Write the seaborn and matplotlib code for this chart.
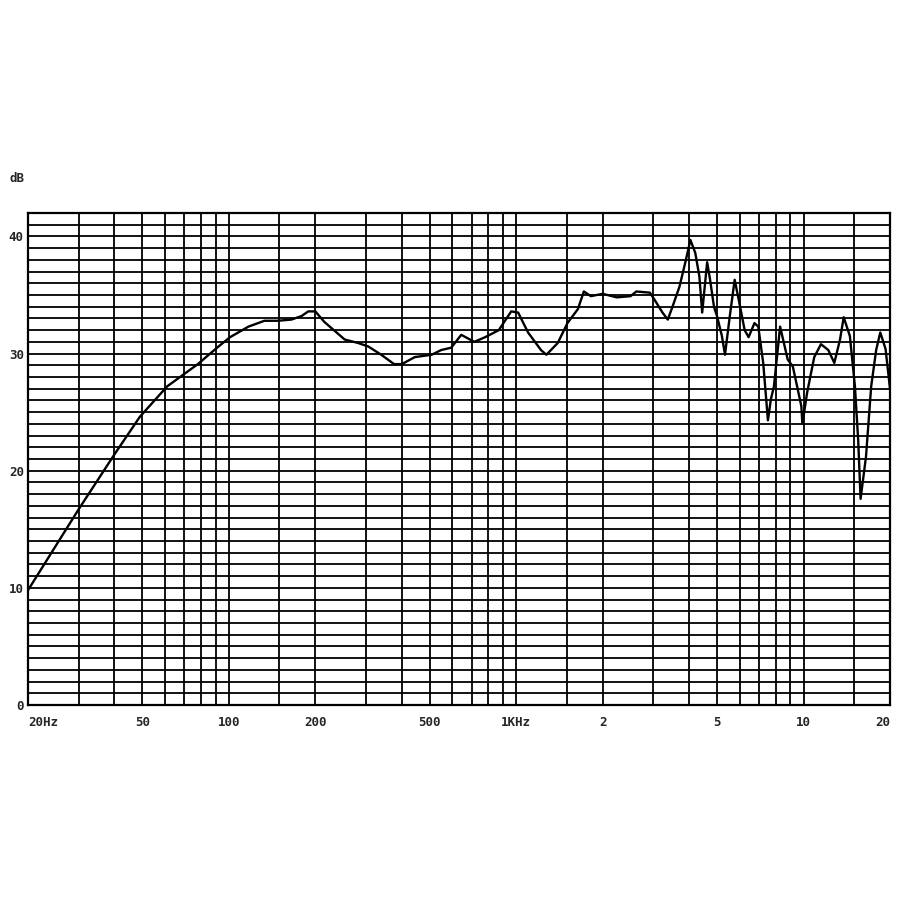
import matplotlib
matplotlib.use("Agg")
import matplotlib.pyplot as plt
import numpy as np
import seaborn as sns
import pandas as pd

sns.set_style("white")
plt.rcParams["font.family"] = ["DejaVu Sans Mono", "DejaVu Sans"]

# response curve (Hz, dB)
freq_hz = [20, 30, 40, 49, 61, 78, 92, 101, 117, 133, 148, 165, 179, 189, 200,
           215, 232, 253, 282, 306, 339, 376, 400, 444, 508, 548, 594, 644,
           715, 780, 870, 961, 1016, 1100, 1220, 1274, 1395, 1508, 1640, 1720,
           1820, 2000, 2240, 2500, 2620, 2920, 3030, 3230, 3370, 3500, 3700,
           3880, 4040, 4200, 4340, 4440, 4620, 4730, 4880, 5000, 5200, 5330,
           5540, 5760, 5950, 6240, 6440, 6750, 6960, 7240, 7520, 7700, 7890,
           8290, 8810, 9180, 9830, 9910, 10300, 10900, 11500, 12200, 12800,
           13400, 13800, 14500, 15100, 15500, 15800, 16500, 17200, 17900,
           18500, 19300, 20000]
level_db = [9.8, 16.7, 21.4, 24.6, 27.2, 29.1, 30.6, 31.4, 32.3, 32.8, 32.8,
            32.9, 33.2, 33.6, 33.6, 32.7, 32.0, 31.2, 30.9, 30.6, 29.9, 29.1,
            29.1, 29.7, 29.9, 30.3, 30.5, 31.6, 31.0, 31.4, 32.0, 33.6, 33.5,
            31.8, 30.3, 29.9, 30.9, 32.6, 33.8, 35.3, 34.9, 35.1, 34.8, 34.9,
            35.3, 35.2, 34.6, 33.5, 32.9, 34.0, 35.7, 37.8, 39.7, 38.6, 36.6,
            33.5, 37.8, 36.3, 34.0, 33.2, 31.5, 29.9, 33.2, 36.3, 34.6, 32.0,
            31.4, 32.6, 32.3, 29.2, 24.3, 26.1, 27.2, 32.3, 29.5, 28.9, 25.5,
            24.0, 26.7, 29.7, 30.8, 30.3, 29.2, 31.2, 33.1, 31.5, 27.2, 22.6,
            17.6, 21.2, 27.2, 30.3, 31.8, 30.4, 27.0]

grid_freqs = [20, 30, 40, 50, 60, 70, 80, 90, 100, 150, 200, 300, 400, 500,
              600, 700, 800, 900, 1000, 1500, 2000, 3000, 4000, 5000, 6000,
              7000, 8000, 9000, 10000, 15000, 20000]
x_labels = {20: "20Hz", 50: "50", 100: "100", 200: "200", 500: "500",
            1000: "1KHz", 2000: "2", 5000: "5", 10000: "10", 20000: "20"}
y_labels = {0: "0", 10: "10", 20: "20", 30: "30", 40: "40"}

df = pd.DataFrame({"freq": freq_hz, "db": level_db})

fig = plt.figure(figsize=(9, 9), dpi=100)
ax = fig.add_axes([28 / 900, 1 - 705 / 900, 862 / 900, 492 / 900])

sns.lineplot(data=df, x="freq", y="db", color="black", linewidth=1.7, ax=ax, zorder=3)

ax.set_xscale("log")
ax.set_xlim(20, 20000)
ax.set_ylim(0, 42)

ax.set_xticks(grid_freqs)
ax.set_xticklabels([x_labels.get(f, "") for f in grid_freqs])
ax.xaxis.set_minor_locator(matplotlib.ticker.NullLocator())
ax.set_yticks(range(0, 43))
ax.set_yticklabels([y_labels.get(v, "") for v in range(0, 43)])

ax.tick_params(axis="x", length=0, pad=8, labelsize=9)
ax.tick_params(axis="y", length=0, pad=3, labelsize=9)
for lab in ax.get_xticklabels() + ax.get_yticklabels():
    lab.set_fontweight("bold")
xl = ax.get_xticklabels()
xl[0].set_horizontalalignment("left")
xl[-1].set_horizontalalignment("right")

ax.grid(True, which="major", color="black", linewidth=1.3)
for s in ax.spines.values():
    s.set_color("black")
    s.set_linewidth(1.6)

ax.set_xlabel("")
ax.set_ylabel("")
fig.text(10 / 900, 1 - 178 / 900, "dB", fontsize=9, fontweight="bold",
         ha="left", va="center")

fig.savefig("out.png", dpi=100)
